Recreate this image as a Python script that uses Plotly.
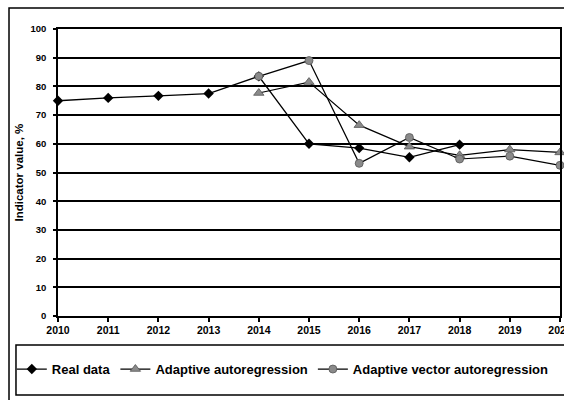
import plotly.graph_objects as go

years_real = [2010, 2011, 2012, 2013, 2014, 2015, 2016, 2017, 2018]
real_data = [75, 76, 76.7, 77.5, 83.5, 60, 58.5, 55.3, 59.7]

years_fc = [2014, 2015, 2016, 2017, 2018, 2019, 2020]
adaptive_ar = [77.7, 81.5, 66.5, 59, 56, 58, 57]
adaptive_var = [83.5, 89, 53.2, 62.2, 54.7, 55.7, 52.5]

x_ticks = list(range(2010, 2021))
y_ticks = list(range(0, 101, 10))

FONT = "Liberation Sans, Arial, sans-serif"

fig = go.Figure()
fig.add_trace(go.Scatter(
    x=years_real, y=real_data, name="Real data", mode="lines+markers",
    line=dict(color="black", width=1.3),
    marker=dict(symbol="diamond", size=8, color="black"),
    cliponaxis=False,
))
fig.add_trace(go.Scatter(
    x=years_fc, y=adaptive_ar, name="Adaptive autoregression", mode="lines+markers",
    line=dict(color="black", width=1.2),
    marker=dict(symbol="triangle-up", size=9, color="#8a8a8a",
                line=dict(color="#555555", width=0.8)),
    cliponaxis=False,
))
fig.add_trace(go.Scatter(
    x=years_fc, y=adaptive_var, name="Adaptive vector autoregression", mode="lines+markers",
    line=dict(color="black", width=1.2),
    marker=dict(symbol="circle", size=8, color="#8a8a8a",
                line=dict(color="#555555", width=0.8)),
    cliponaxis=False,
))

fig.update_layout(
    width=564, height=400,
    margin=dict(l=58, r=4, t=29, b=84),
    paper_bgcolor="white", plot_bgcolor="white",
    font=dict(family=FONT, color="black"),
    showlegend=True,
    legend=dict(
        orientation="h", x=-0.092, xanchor="left", y=-0.185, yanchor="middle",
        font=dict(family=FONT, size=13, color="black", weight="bold"),
        bgcolor="rgba(0,0,0,0)", borderwidth=0, itemwidth=30,
    ),
    xaxis=dict(
        range=[2010, 2020], tickvals=x_ticks, ticktext=[str(v) for v in x_ticks],
        showgrid=False, zeroline=False, automargin=False,
        showline=True, linecolor="black", linewidth=1.5, mirror=True,
        ticks="outside", ticklen=4, tickcolor="black", tickwidth=1.5,
        ticklabeloverflow="allow",
        tickfont=dict(family=FONT, size=10.5, color="black", weight="bold"),
    ),
    yaxis=dict(
        range=[0, 100], tickvals=y_ticks, automargin=False,
        showgrid=True, gridcolor="black", gridwidth=1.5, zeroline=False,
        showline=True, linecolor="black", linewidth=1.5, mirror=True,
        ticks="outside", ticklen=3, tickcolor="black", tickwidth=1.5,
        ticklabelstandoff=5,
        tickfont=dict(family=FONT, size=9.5, color="black", weight="bold"),
    ),
    annotations=[dict(
        text="Indicator value, %", xref="paper", yref="paper",
        x=-0.0777, y=0.5, xanchor="center", yanchor="middle",
        textangle=-90, showarrow=False,
        font=dict(family=FONT, size=11.5, color="black", weight="bold"),
    )],
    shapes=[
        dict(type="rect", xref="paper", yref="paper",
             x0=-0.0976, x1=1.02, y0=-0.31, y1=1.073,
             line=dict(color="black", width=1.5), layer="below"),
        dict(type="rect", xref="paper", yref="paper",
             x0=-0.0837, x1=1.02, y0=-0.275, y1=-0.101,
             line=dict(color="black", width=1.5), layer="below"),
    ],
)

fig.write_html(
    "out.html",
    config={"displayModeBar": False},
    post_script="document.body.style.margin='0';document.body.style.overflow='hidden';",
)
